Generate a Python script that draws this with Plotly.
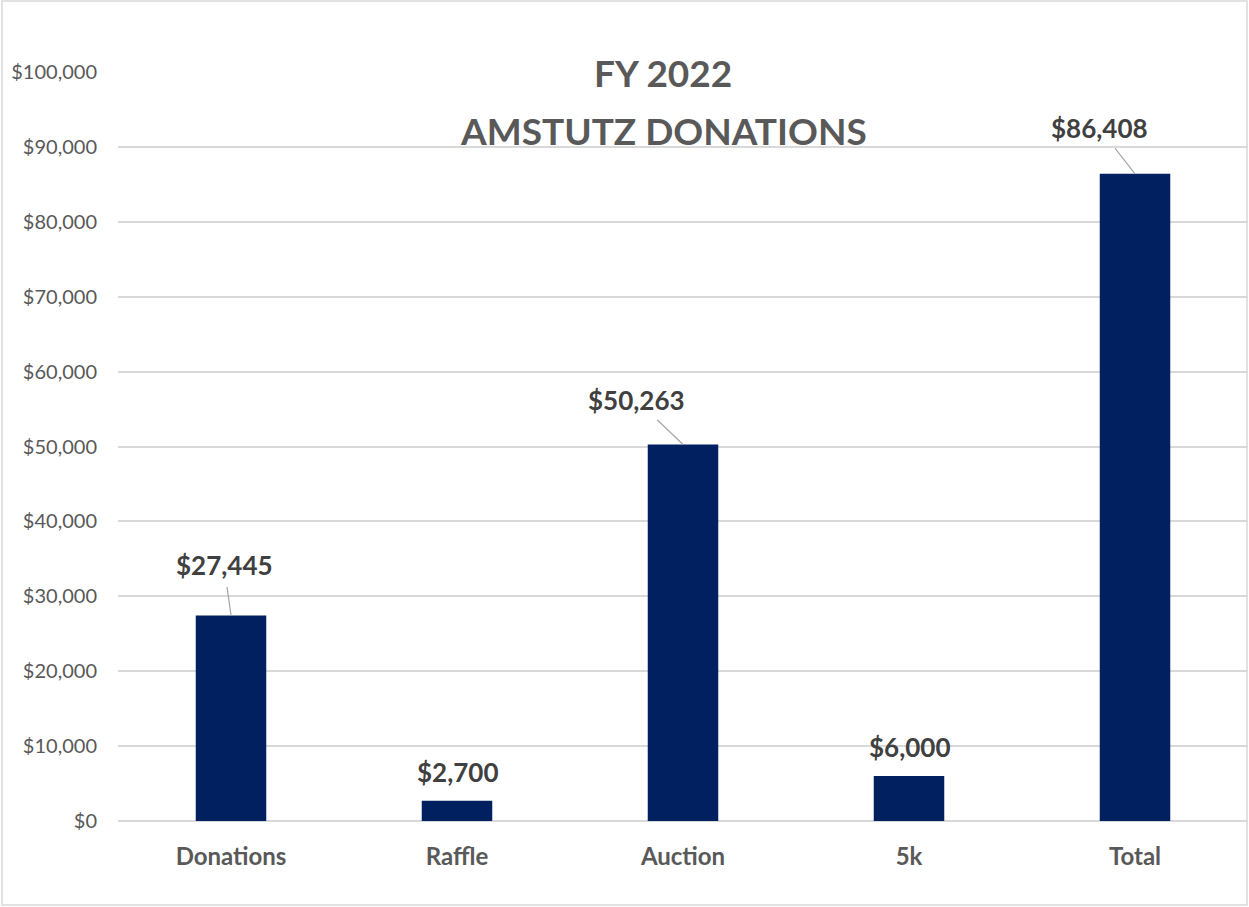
import plotly.graph_objects as go

# datos del grafico
categorias = ["Donations", "Raffle", "Auction", "5k", "Total"]
montos = [27445, 2700, 50263, 6000, 86408]
ticks_y = list(range(0, 100001, 10000))
etiquetas_y = ["${:,}".format(v) for v in ticks_y]

# offsets de las etiquetas (px) respecto a la punta de la barra
offset_x = [-7, 0, -47, 0, -36]
offset_y = [-50, -29, -45, -29, -46]
con_linea = [True, False, True, False, True]

W, H = 1249, 907
ml, mr, mt, mb = 118, 1, 72, 86

fig = go.Figure()
fig.add_trace(go.Bar(x=categorias, y=montos, width=0.312,
                     marker=dict(color="#002060", line=dict(width=0)),
                     hoverinfo="x+y"))

# etiquetas de datos
for cat, val, dx, dy, linea in zip(categorias, montos, offset_x, offset_y, con_linea):
    txt = "<b>${:,}</b>".format(val)
    if linea:
        fig.add_annotation(x=cat, y=val, text=txt, showarrow=True, arrowhead=0,
                           arrowwidth=1.2, arrowcolor="#a6a6a6", ax=dx, ay=dy,
                           standoff=0, startstandoff=4,
                           font=dict(family="Lato", size=26, color="#404040"))
    else:
        fig.add_annotation(x=cat, y=val, text=txt, showarrow=False,
                           yanchor="middle", yshift=-dy,
                           font=dict(family="Lato", size=26, color="#404040"))

# titulo
pw, ph = W - ml - mr, H - mt - mb
fig.add_annotation(xref="paper", yref="paper", x=(663 - ml) / pw,
                   y=(H - mb - 72) / ph, text="<b>FY 2022</b>",
                   showarrow=False, yanchor="middle",
                   font=dict(family="Lato", size=37, color="#595959"))
fig.add_annotation(xref="paper", yref="paper", x=(663 - ml) / pw,
                   y=(H - mb - 131) / ph, text="<b>AMSTUTZ DONATIONS</b>",
                   showarrow=False, yanchor="middle",
                   font=dict(family="Lato", size=37, color="#595959"))

# marco gris alrededor del grafico
fig.add_shape(type="rect", xref="paper", yref="paper",
              x0=(2 - ml) / pw, x1=(W - 2 - ml) / pw,
              y0=(H - mb - (H - 2)) / ph, y1=(H - mb - 1) / ph,
              line=dict(color="#d9d9d9", width=1.5), fillcolor="rgba(0,0,0,0)")

fig.update_layout(
    width=W, height=H,
    margin=dict(l=ml, r=mr, t=mt, b=mb, autoexpand=False),
    plot_bgcolor="white", paper_bgcolor="white",
    showlegend=False,
    font=dict(family="Lato", color="#595959"),
    xaxis=dict(showgrid=False, showline=False, ticks="", automargin=False,
               tickvals=categorias,
               ticktext=["<b>%s</b>" % c for c in categorias],
               tickfont=dict(family="Lato", size=24, color="#595959"),
               ticklabelstandoff=19),
    yaxis=dict(range=[0, 100000], tickvals=ticks_y, ticktext=etiquetas_y,
               automargin=False,
               showgrid=True, gridcolor="#d9d9d9", gridwidth=1.5,
               zeroline=True, zerolinecolor="#d9d9d9", zerolinewidth=1.5,
               showline=False, ticks="",
               tickfont=dict(family="Lato", size=20, color="#595959"),
               ticklabelstandoff=20),
)

# quitar el margen del body para que el grafico quede en 0,0
fig.write_html("out.html", config={"displayModeBar": False},
               post_script="document.body.style.margin='0';")
